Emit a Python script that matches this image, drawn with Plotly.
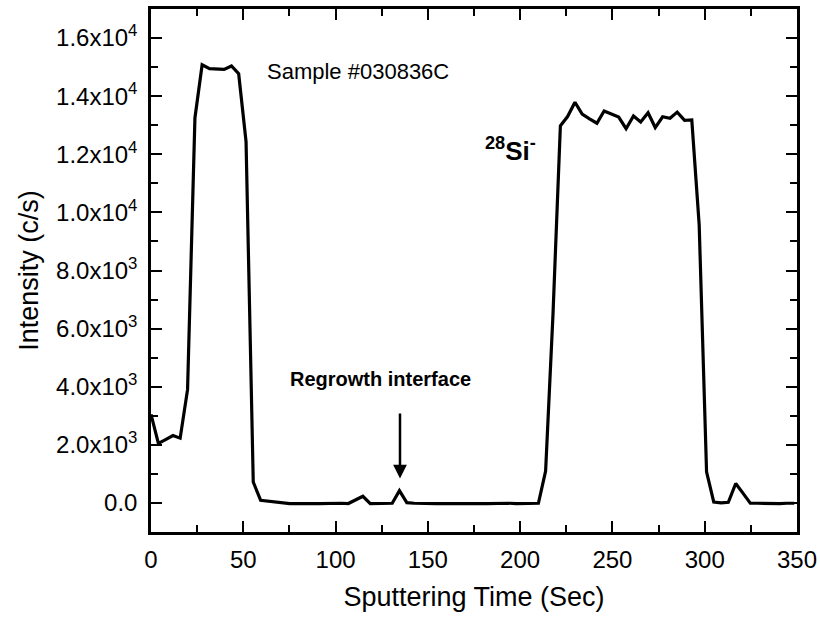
import plotly.graph_objects as go

# Sputtering time (s) and 28Si- secondary-ion intensity (c/s)
time_s = [0.0, 4.0, 7.9, 11.9, 15.8, 19.8, 23.8, 27.7, 31.7, 35.6,
          39.6, 43.6, 47.5, 51.5, 55.4, 59.4, 63.4, 67.3, 71.3, 75.2,
          79.2, 83.2, 87.1, 91.1, 95.0, 99.0, 103.0, 106.9, 110.9, 114.8,
          118.8, 122.8, 126.7, 130.7, 134.6, 138.6, 142.6, 146.5, 150.5, 154.4,
          158.4, 162.4, 166.3, 170.3, 174.2, 178.2, 182.2, 186.1, 190.1, 194.0,
          198.0, 202.0, 205.9, 209.9, 213.8, 217.8, 221.8, 225.7, 229.7, 233.6,
          237.6, 241.6, 245.5, 249.5, 253.4, 257.4, 261.4, 265.3, 269.3, 273.2,
          277.2, 281.2, 285.1, 289.1, 293.0, 297.0, 301.0, 304.9, 308.9, 312.8,
          316.8, 320.8, 324.7, 328.7, 332.6, 336.6, 340.6, 344.5, 348.5]
intensity = [3050, 2050, 2180, 2320, 2230, 3900, 13250, 15080, 14950, 14930,
             14920, 15040, 14770, 12440, 720, 90, 60, 30, 0, -20,
             -20, -10, -20, -20, -10, -20, -10, -20, 100, 230,
             -20, -20, -20, -10, 420, 10, -10, -20, -10, -20,
             -20, -10, -20, -20, -10, -20, -20, -10, -20, -10,
             -20, -10, -20, -10, 1100, 6500, 12980, 13300, 13790, 13380,
             13220, 13070, 13490, 13380, 13280, 12880, 13320, 13110, 13430, 12920,
             13290, 13240, 13450, 13170, 13180, 9570, 1070, 30, 0, 20,
             670, 330, -10, -10, -20, -10, -20, -10, -10]

x_ticks = [0, 50, 100, 150, 200, 250, 300, 350]
y_ticks = [0, 2000, 4000, 6000, 8000, 10000, 12000, 14000, 16000]
y_tick_text = ["0.0", "2.0x10<sup>3</sup>", "4.0x10<sup>3</sup>", "6.0x10<sup>3</sup>",
               "8.0x10<sup>3</sup>", "1.0x10<sup>4</sup>", "1.2x10<sup>4</sup>",
               "1.4x10<sup>4</sup>", "1.6x10<sup>4</sup>"]

# Regrowth-interface marker: arrow tip and tail intensities at the interface time
interface_t = 134.9
arrow_tip, arrow_tail = 840, 3130

FONT = "Liberation Sans, Arial, sans-serif"

fig = go.Figure()
fig.add_trace(go.Scatter(x=time_s, y=intensity, mode="lines",
                         line=dict(color="black", width=3.2),
                         showlegend=False, hoverinfo="skip"))

axis_common = dict(
    showline=True, linecolor="black", linewidth=2.5, mirror="allticks",
    ticks="inside", ticklen=11, tickwidth=2.2, tickcolor="black",
    showgrid=False, zeroline=False, automargin=False,
    tickfont=dict(family=FONT, size=24, color="black"),
)

fig.update_xaxes(range=[0, 350], tickvals=x_ticks, ticklabelstandoff=4,
                 minor=dict(dtick=25, ticks="inside", ticklen=7, tickwidth=2.2,
                            tickcolor="black", showgrid=False),
                 title=dict(text="Sputtering Time (Sec)",
                            font=dict(family=FONT, size=27, color="black"),
                            standoff=16),
                 **axis_common)
fig.update_yaxes(range=[-1000, 17000], tickvals=y_ticks, ticktext=y_tick_text,
                 ticklabelstandoff=6,
                 minor=dict(dtick=1000, tick0=0, ticks="inside", ticklen=7, tickwidth=2.2,
                            tickcolor="black", showgrid=False),
                 title=dict(text="Intensity (c/s)",
                            font=dict(family=FONT, size=27, color="black"),
                            standoff=10),
                 **axis_common)

fig.add_annotation(x=61.8, y=14840, xref="x", yref="y", showarrow=False,
                   xanchor="left", text="Sample #030836C",
                   font=dict(family=FONT, size=22, color="black"))
fig.add_annotation(x=195, y=12150, xref="x", yref="y", showarrow=False,
                   text="<b><sup>28</sup>Si<sup>-</sup></b>",
                   font=dict(family=FONT, size=26, color="black"))
fig.add_annotation(x=124.5, y=4250, xref="x", yref="y", showarrow=False,
                   text="<b>Regrowth interface</b>",
                   font=dict(family=FONT, size=20, color="black"))
fig.add_annotation(x=interface_t, y=arrow_tip, ax=interface_t, ay=arrow_tail,
                   xref="x", yref="y", axref="x", ayref="y", text="",
                   showarrow=True, arrowhead=2, arrowsize=1.1, arrowwidth=2.5,
                   arrowcolor="black", standoff=0, startstandoff=0)

fig.update_layout(
    width=820, height=618,
    margin=dict(l=151, r=23, t=9, b=86, autoexpand=False),
    paper_bgcolor="white", plot_bgcolor="white",
    font=dict(family=FONT, color="black"),
)

fig.write_html("out.html")
